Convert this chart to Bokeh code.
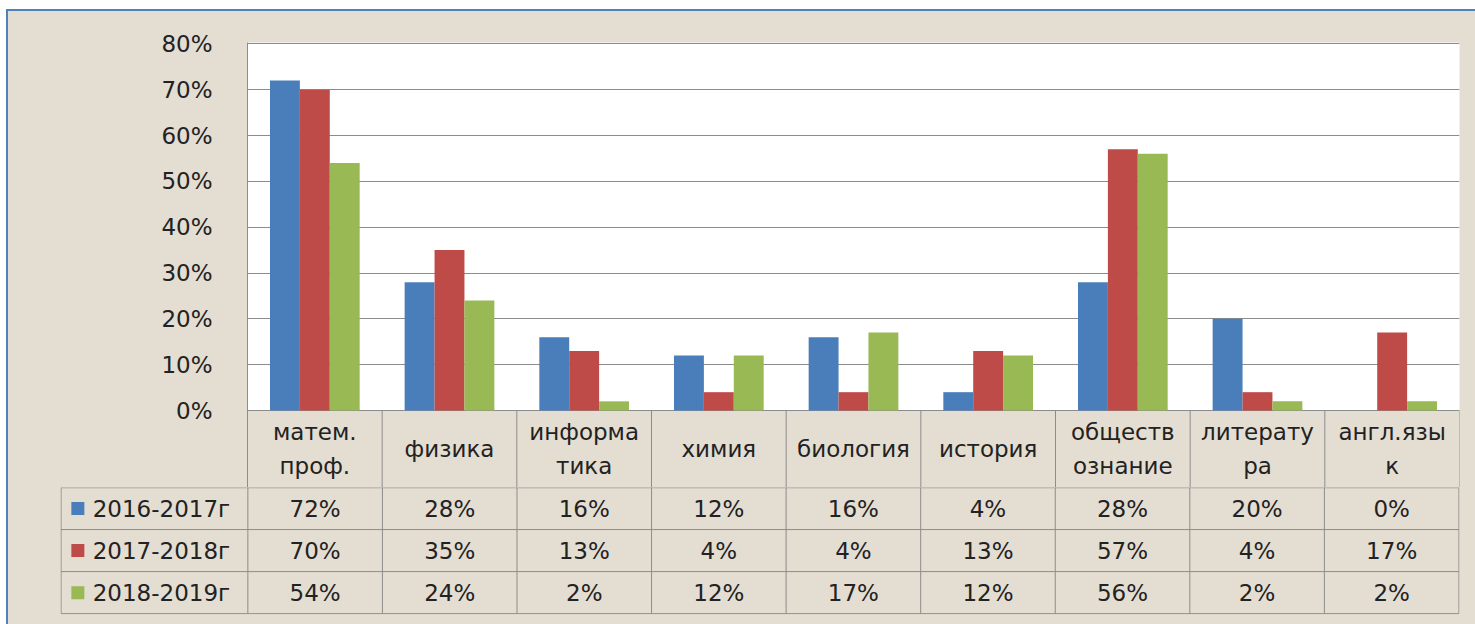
from bokeh.plotting import figure
from bokeh.layouts import column
from bokeh.models import Range1d, FixedTicker, PrintfTickFormatter, ColumnDataSource
from bokeh.transform import dodge
from bokeh.core.properties import value
from bokeh.embed import file_html
from bokeh.resources import INLINE

categories = ["матем. проф.", "физика", "информатика", "химия", "биология",
              "история", "обществознание", "литература", "англ.язык"]
cat_labels = ["матем.\nпроф.", "физика", "информа\nтика", "химия", "биология",
              "история", "обществ\nознание", "литерату\nра", "англ.язы\nк"]
series_names = ["2016-2017г", "2017-2018г", "2018-2019г"]
v2016 = [72, 28, 16, 12, 16, 4, 28, 20, 0]
v2017 = [70, 35, 13, 4, 4, 13, 57, 4, 17]
v2018 = [54, 24, 2, 12, 17, 12, 56, 2, 2]
y_ticks = [0, 10, 20, 30, 40, 50, 60, 70, 80]

colors = ["#4A7EBB", "#BE4B48", "#98B954"]
BG = "#E4DDD2"
GRID = "#8C8C8C"
TXT = "#222222"
FONT = "DejaVu Sans"
FS = "23px"

W = 1467
n = len(categories)
centers = [i + 0.5 for i in range(n)]
bounds = list(range(n + 1))

# ---------- chart (+ header row of the data table below the zero line) ----------
YTOP = 80.3
HB = -16.8  # bottom of header row, in axis units (77 px below the zero line)
src = ColumnDataSource(dict(xc=centers, a=v2016, b=v2017, c=v2018))
p = figure(width=W, height=476, x_range=Range1d(0, n),
           y_range=Range1d(HB, YTOP), output_backend="svg", toolbar_location=None,
           min_border_left=239, min_border_right=16, min_border_top=31, min_border_bottom=0,
           frame_align=False)
p.border_fill_color = BG
p.background_fill_color = "white"
p.outline_line_color = None
p.xaxis.visible = False
p.xgrid.grid_line_color = None
p.ygrid.grid_line_color = GRID
p.ygrid.grid_line_width = 1
p.yaxis.ticker = FixedTicker(ticks=y_ticks)
p.yaxis.formatter = PrintfTickFormatter(format="%d%%")
p.yaxis.major_tick_line_color = None
p.yaxis.minor_tick_line_color = None
p.yaxis.axis_line_color = GRID
p.yaxis.major_label_text_font = FONT
p.yaxis.major_label_text_font_size = FS
p.yaxis.major_label_text_color = TXT
p.yaxis.major_label_standoff = 29

# header row area
p.quad(left=[0], right=[n], bottom=[HB], top=[0], fill_color=BG, line_color=None)
hx0 = [0] + bounds
hx1 = [n] + bounds
hy0 = [0] + [HB] * len(bounds)
hy1 = [0] + [0] * len(bounds)
p.segment(x0=hx0, y0=hy0, x1=hx1, y1=hy1, line_color=GRID, line_width=1)
p.text(x=centers, y=[HB / 2] * n, text=cat_labels, text_align="center",
       text_baseline="middle", text_font=value(FONT), text_font_size=FS,
       text_color=TXT, text_line_height=1.3)

bw = 0.222
for key, off, col in zip(["a", "b", "c"], [-bw, 0, bw], colors):
    p.vbar(x=dodge("xc", off), top=key, bottom=0, width=bw,
           source=src, fill_color=col, line_color=None)

# ---------- data rows ----------
LEFT = -(247 - 60) / 134.7
t = figure(width=W, height=137, x_range=Range1d(LEFT - 0.004, n + 0.004), y_range=Range1d(-0.02, 3.0),
           output_backend="svg", toolbar_location=None,
           min_border_left=52, min_border_right=16, min_border_top=0, min_border_bottom=10,
           frame_align=False)
t.border_fill_color = BG
t.background_fill_color = BG
t.outline_line_color = None
t.axis.visible = False
t.grid.visible = False

xs0, ys0, xs1, ys1 = [], [], [], []
for yy in [0, 1, 2, 2.995]:
    xs0.append(LEFT); xs1.append(n); ys0.append(yy); ys1.append(yy)
xs0.append(LEFT); xs1.append(LEFT); ys0.append(0); ys1.append(3)
for b in bounds:
    xs0.append(b); xs1.append(b); ys0.append(0); ys1.append(3)
t.segment(x0=xs0, y0=ys0, x1=xs1, y1=ys1, line_color=GRID, line_width=1)

for row_y, vals in zip([2.5, 1.5, 0.5], [v2016, v2017, v2018]):
    t.text(x=centers, y=[row_y] * n, text=[f"{v}%" for v in vals], text_align="center",
           text_baseline="middle", text_font=value(FONT), text_font_size=FS, text_color=TXT)

t.scatter(x=[LEFT + 0.125] * 3, y=[2.5, 1.5, 0.5], marker="square", size=13,
          fill_color=colors, line_color=None)
t.text(x=[LEFT + 0.235] * 3, y=[2.5, 1.5, 0.5], text=series_names, text_align="left",
       text_baseline="middle", text_font=value(FONT), text_font_size=FS, text_color=TXT)

layout = column(p, t, spacing=0,
                styles={"margin-left": "6px", "margin-top": "9px", "background-color": BG,
                        "border-left": "2px solid #4F81BD", "border-top": "2px solid #4F81BD"})
open("out.html", "w").write(file_html(layout, INLINE))
